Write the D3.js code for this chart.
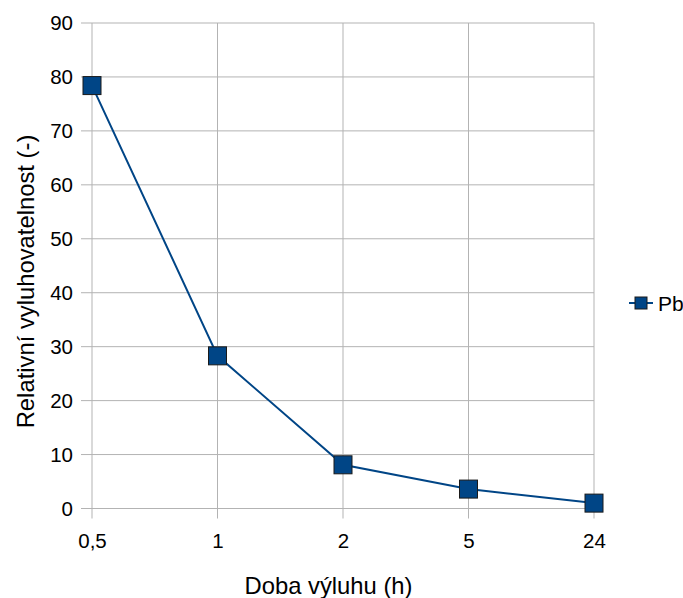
<!DOCTYPE html>
<html>
<head>
<meta charset="utf-8">
<script src="https://cdn.jsdelivr.net/npm/d3@7"></script>
<style>
  html, body { margin: 0; padding: 0; background: #fff; }
  svg { display: block; font-family: "Liberation Sans", Arial, sans-serif; }
</style>
</head>
<body>
<svg id="chart" width="683" height="598"></svg>
<script>
// Leaching time categories and relative leachability of Pb
const categories = ["0,5", "1", "2", "5", "24"];
const pbValues = [78.4, 28.3, 8.1, 3.6, 1.0];
const yTicks = [0, 10, 20, 30, 40, 50, 60, 70, 80, 90];
const seriesName = "Pb";
const xTitle = "Doba výluhu (h)";
const yTitle = "Relativní vyluhovatelnost (-)";

const svg = d3.select("#chart");
const plot = { left: 92, right: 594, top: 23, bottom: 508.5 };
const blue = "#004586";

const x = d3.scalePoint().domain(categories).range([plot.left, plot.right]);
const y = d3.scaleLinear().domain([0, 90]).range([plot.bottom, plot.top]);

// Horizontal grid lines with outward tick stubs
svg.append("g")
  .selectAll("line")
  .data(yTicks)
  .join("line")
  .attr("x1", plot.left - 11)
  .attr("x2", plot.right)
  .attr("y1", d => y(d))
  .attr("y2", d => y(d))
  .attr("stroke", "#b3b3b3")
  .attr("stroke-width", 1);

// Vertical category lines
svg.append("g")
  .selectAll("line")
  .data(categories)
  .join("line")
  .attr("x1", d => x(d))
  .attr("x2", d => x(d))
  .attr("y1", plot.top)
  .attr("y2", plot.bottom + 10)
  .attr("stroke", "#b3b3b3")
  .attr("stroke-width", 1);

// Y axis tick labels
const yAxis = d3.axisLeft(y).tickValues(yTicks).tickSize(0).tickPadding(19);
svg.append("g")
  .attr("transform", `translate(${plot.left},0)`)
  .call(yAxis)
  .call(g => g.select(".domain").remove())
  .selectAll("text")
  .attr("font-size", 20.5)
  .attr("fill", "#000")
  .attr("font-family", "Liberation Sans, Arial, sans-serif");

// X axis tick labels
const xAxis = d3.axisBottom(x).tickSize(0).tickPadding(25);
svg.append("g")
  .attr("transform", `translate(0,${plot.bottom})`)
  .call(xAxis)
  .call(g => g.select(".domain").remove())
  .selectAll("text")
  .attr("font-size", 20.5)
  .attr("fill", "#000")
  .attr("font-family", "Liberation Sans, Arial, sans-serif");

// Series line
const line = d3.line()
  .x((d, i) => x(categories[i]))
  .y(d => y(d));

svg.append("path")
  .datum(pbValues)
  .attr("d", line)
  .attr("fill", "none")
  .attr("stroke", blue)
  .attr("stroke-width", 2);

// Square markers
const ms = 18;
svg.append("g")
  .selectAll("rect")
  .data(pbValues)
  .join("rect")
  .attr("x", (d, i) => x(categories[i]) - ms / 2)
  .attr("y", d => y(d) - ms / 2)
  .attr("width", ms)
  .attr("height", ms)
  .attr("fill", blue)
  .attr("stroke", "#1a1a1a")
  .attr("stroke-width", 1);

// Axis titles
svg.append("text")
  .attr("x", 328.5)
  .attr("y", 594)
  .attr("text-anchor", "middle")
  .attr("font-size", 23.8)
  .attr("fill", "#000")
  .text(xTitle);

svg.append("text")
  .attr("transform", "translate(33.5,281.5) rotate(-90)")
  .attr("text-anchor", "middle")
  .attr("font-size", 23.8)
  .attr("fill", "#000")
  .text(yTitle);

// Legend
const lg = svg.append("g").attr("transform", "translate(629,303)");
lg.append("line")
  .attr("x1", 0).attr("x2", 24)
  .attr("y1", 0).attr("y2", 0)
  .attr("stroke", blue)
  .attr("stroke-width", 2);
lg.append("rect")
  .attr("x", 6).attr("y", -6)
  .attr("width", 12).attr("height", 12)
  .attr("fill", blue)
  .attr("stroke", "#1a1a1a")
  .attr("stroke-width", 1);
lg.append("text")
  .attr("x", 29)
  .attr("y", 7.5)
  .attr("font-size", 21)
  .attr("fill", "#000")
  .text(seriesName);
</script>
</body>
</html>
